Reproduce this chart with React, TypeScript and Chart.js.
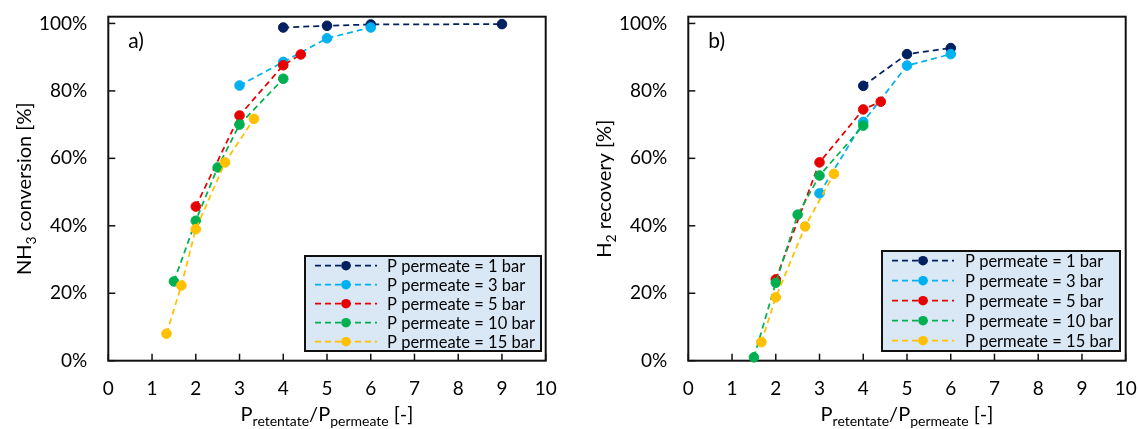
import React, { useEffect, useRef } from 'react';
import { Chart, registerables } from 'chart.js';

Chart.register(...registerables);

const seriesLabels = [
  'P permeate = 1 bar',
  'P permeate = 3 bar',
  'P permeate = 5 bar',
  'P permeate = 10 bar',
  'P permeate = 15 bar',
];
const seriesColors = ['#002060', '#00B0F0', '#E80000', '#00B050', '#FFC000'];

const xTickValues = [0, 1, 2, 3, 4, 5, 6, 7, 8, 9, 10];
const yTickValues = [0, 20, 40, 60, 80, 100];

// a) NH3 conversion [%]
const convX1 = [4, 5, 6, 9];
const convY1 = [98.8, 99.3, 99.7, 99.8];
const convX3 = [3, 4, 5, 6];
const convY3 = [81.6, 88.6, 95.6, 98.8];
const convX5 = [2, 3, 4, 4.4];
const convY5 = [45.7, 72.7, 87.6, 90.8];
const convX10 = [1.5, 2, 2.5, 3, 4];
const convY10 = [23.5, 41.5, 57.3, 70.0, 83.6];
const convX15 = [1.33, 1.67, 2, 2.67, 3.33];
const convY15 = [8.0, 22.3, 39.0, 58.8, 71.7];

// b) H2 recovery [%]
const recX1 = [4, 5, 6];
const recY1 = [81.5, 90.9, 92.7];
const recX3 = [3, 4, 5, 6];
const recY3 = [49.6, 70.8, 87.5, 90.9];
const recX5 = [2, 3, 4, 4.4];
const recY5 = [24.1, 58.8, 74.5, 76.8];
const recX10 = [1.5, 2, 2.5, 3, 4];
const recY10 = [1.0, 23.1, 43.3, 54.9, 69.7];
const recX15 = [1.67, 2, 2.67, 3.33];
const recY15 = [5.5, 18.8, 39.8, 55.4];

const FONT = 'Lato, "Open Sans", sans-serif';

type Part = { t: string; sub?: boolean };

function drawParts(ctx: CanvasRenderingContext2D, parts: Part[], startX: number, baseY: number, size: number, subSize: number, subShift: number) {
  let x = startX;
  for (const p of parts) {
    ctx.font = `${p.sub ? subSize : size}px ${FONT}`;
    ctx.fillText(p.t, x, p.sub ? baseY + subShift : baseY);
    x += ctx.measureText(p.t).width;
  }
}
function partsWidth(ctx: CanvasRenderingContext2D, parts: Part[], size: number, subSize: number) {
  let w = 0;
  for (const p of parts) {
    ctx.font = `${p.sub ? subSize : size}px ${FONT}`;
    w += ctx.measureText(p.t).width;
  }
  return w;
}

type PanelProps = {
  left: number;
  width: number;
  yAxisWidth: number;
  padRight: number;
  xs: number[][];
  ys: number[][];
  panelLabel: string;
  yTitle: Part[];
  yTitleX: number;
  legendBox: { x: number; y: number; w: number; h: number; rowY0: number; rowGap: number; lineX0: number; lineX1: number; textX: number };
};

function Panel(props: PanelProps) {
  const ref = useRef<HTMLCanvasElement | null>(null);
  useEffect(() => {
    if (!ref.current) return;
    const xTitle: Part[] = [
      { t: 'P' },
      { t: 'retentate', sub: true },
      { t: '/P' },
      { t: 'permeate', sub: true },
      { t: ' [-]' },
    ];
    const decor = {
      id: 'decor',
      beforeDatasetsDraw(chart: any) {
        const { ctx, chartArea: a } = chart;
        const xs = chart.scales.x;
        const ysc = chart.scales.y;
        ctx.save();
        ctx.strokeStyle = '#111';
        ctx.lineWidth = 2;
        ctx.strokeRect(a.left, a.top, a.right - a.left, a.bottom - a.top);
        ctx.lineWidth = 1.5;
        for (const v of yTickValues) {
          const py = ysc.getPixelForValue(v);
          ctx.beginPath();
          ctx.moveTo(a.left, py);
          ctx.lineTo(a.left + 7, py);
          ctx.stroke();
        }
        for (const v of xTickValues) {
          const px = xs.getPixelForValue(v);
          ctx.beginPath();
          ctx.moveTo(px, a.bottom);
          ctx.lineTo(px, a.bottom - 7);
          ctx.stroke();
        }
        ctx.fillStyle = '#000';
        ctx.textBaseline = 'middle';
        ctx.textAlign = 'left';
        ctx.font = `21px ${FONT}`;
        ctx.fillText(props.panelLabel, a.left + 20, a.top + 25);
        // x title
        ctx.textBaseline = 'alphabetic';
        const w = partsWidth(ctx, xTitle, 20, 14);
        const cx = (a.left + a.right) / 2;
        drawParts(ctx, xTitle, cx - w / 2, 421, 20, 14, 5);
        // y title
        ctx.save();
        ctx.translate(props.yTitleX, (a.top + a.bottom) / 2);
        ctx.rotate(-Math.PI / 2);
        const wy = partsWidth(ctx, props.yTitle, 20, 14);
        drawParts(ctx, props.yTitle, -wy / 2, 7, 20, 14, 5);
        ctx.restore();
        ctx.restore();
      },
      afterDatasetsDraw(chart: any) {
        const { ctx } = chart;
        const L = props.legendBox;
        ctx.save();
        ctx.fillStyle = '#DAE8F6';
        ctx.fillRect(L.x, L.y, L.w, L.h);
        ctx.strokeStyle = '#111';
        ctx.lineWidth = 2;
        ctx.strokeRect(L.x, L.y, L.w, L.h);
        seriesLabels.forEach((lab, i) => {
          const ry = L.rowY0 + i * L.rowGap;
          ctx.strokeStyle = seriesColors[i];
          ctx.lineWidth = 1.75;
          ctx.setLineDash([6, 4]);
          ctx.beginPath();
          ctx.moveTo(L.lineX0, ry);
          ctx.lineTo(L.lineX1, ry);
          ctx.stroke();
          ctx.setLineDash([]);
          ctx.fillStyle = seriesColors[i];
          ctx.beginPath();
          ctx.arc((L.lineX0 + L.lineX1) / 2, ry, 4.8, 0, Math.PI * 2);
          ctx.fill();
          ctx.fillStyle = '#000';
          ctx.font = `16.5px ${FONT}`;
          ctx.textBaseline = 'middle';
          ctx.textAlign = 'left';
          ctx.fillText(lab, L.textX, ry + 1);
        });
        ctx.restore();
      },
    };

    const datasets = props.xs.map((xarr, i) => ({
      label: seriesLabels[i],
      data: xarr.map((x, j) => ({ x, y: props.ys[i][j] })),
      showLine: true,
      borderColor: seriesColors[i],
      backgroundColor: seriesColors[i],
      pointBackgroundColor: seriesColors[i],
      pointBorderColor: seriesColors[i],
      pointBorderWidth: 1,
      pointRadius: 4.8,
      borderWidth: 1.75,
      borderDash: [6, 4],
      order: 10 - i,
      clip: false as any,
    }));

    const chart = new Chart(ref.current, {
      type: 'scatter',
      data: { datasets },
      options: {
        animation: false,
        responsive: false,
        devicePixelRatio: 1,
        layout: { padding: { left: 0, right: props.padRight, top: 16.7, bottom: 0 } },
        plugins: { legend: { display: false }, tooltip: { enabled: false } },
        scales: {
          x: {
            type: 'linear',
            min: 0,
            max: 10,
            grid: { display: false, drawTicks: false, tickLength: 0 },
            border: { display: false },
            afterBuildTicks: (s: any) => {
              s.ticks = xTickValues.map((v) => ({ value: v }));
            },
            afterFit: (s: any) => {
              s.height = 429 - 360.7;
              s.paddingLeft = 0;
              s.paddingRight = 0;
            },
            ticks: {
              font: { family: FONT, size: 19 },
              color: '#000',
              padding: 17,
              maxRotation: 0,
              autoSkip: false,
            },
          },
          y: {
            type: 'linear',
            min: 0,
            max: 102,
            grid: { display: false, drawTicks: false, tickLength: 0 },
            border: { display: false },
            afterBuildTicks: (s: any) => {
              s.ticks = yTickValues.map((v) => ({ value: v }));
            },
            afterFit: (s: any) => {
              s.width = props.yAxisWidth;
              s.paddingTop = 0;
              s.paddingBottom = 0;
            },
            ticks: {
              font: { family: FONT, size: 19 },
              color: '#000',
              padding: 21,
              callback: (v: any) => `${v}%`,
            },
          },
        },
      },
      plugins: [decor],
    });
    return () => chart.destroy();
  }, []);
  return (
    <canvas
      ref={ref}
      width={props.width}
      height={429}
      style={{ position: 'absolute', left: props.left, top: 0, width: props.width, height: 429 }}
    />
  );
}

export default function App() {
  return (
    <div style={{ position: 'fixed', left: 0, top: 0, width: 1138, height: 429, background: '#fff' }}>
      <Panel
        left={0}
        width={569}
        yAxisWidth={108.3}
        padRight={569 - 545.7}
        xs={[convX1, convX3, convX5, convX10, convX15]}
        ys={[convY1, convY3, convY5, convY10, convY15]}
        panelLabel="a)"
        yTitle={[{ t: 'NH' }, { t: '3', sub: true }, { t: ' conversion [%]' }]}
        yTitleX={24}
        legendBox={{ x: 305, y: 256, w: 236, h: 95, rowY0: 265.7, rowGap: 19, lineX0: 315, lineX1: 377, textX: 387 }}
      />
      <Panel
        left={569}
        width={569}
        yAxisWidth={119.3}
        padRight={569 - 556.7}
        xs={[recX1, recX3, recX5, recX10, recX15]}
        ys={[recY1, recY3, recY5, recY10, recY15]}
        panelLabel="b)"
        yTitle={[{ t: 'H' }, { t: '2', sub: true }, { t: ' recovery [%]' }]}
        yTitleX={35}
        legendBox={{ x: 313, y: 251, w: 238, h: 100, rowY0: 260.7, rowGap: 20, lineX0: 323, lineX1: 385, textX: 396 }}
      />
    </div>
  );
}
